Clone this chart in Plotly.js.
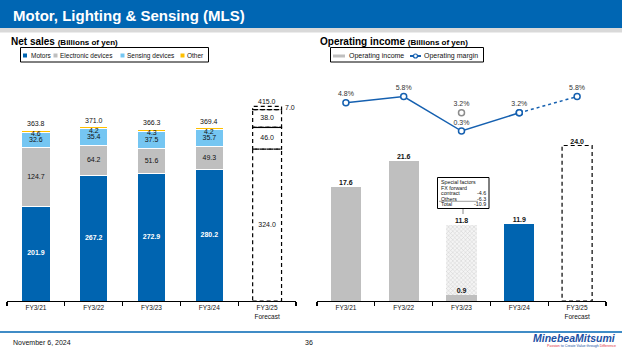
<!DOCTYPE html>
<html><head><meta charset="utf-8">
<script src="https://cdn.plot.ly/plotly-3.0.1.min.js"></script>
<style>html,body{margin:0;padding:0;background:#fff;} #chart{width:622px;height:350px;}</style>
</head><body><div id="chart"></div>
<script>
// ---- data ----
const years = ['FY3/21', 'FY3/22', 'FY3/23', 'FY3/24', 'FY3/25<br>Forecast'];
const motors = [201.9, 267.2, 272.9, 280.2, 324.0];
const electronic = [124.7, 64.2, 51.6, 49.3, 46.0];
const sensing = [32.6, 35.4, 37.5, 35.7, 38.0];
const other = [4.6, 4.2, 4.3, 4.2, 7.0];
const netTotals = [363.8, 371.0, 366.3, 369.4, 415.0];
const opIncome = [17.6, 21.6, 0.9, 11.9, 24.0];
const opIncomeExSpecial = [null, null, 11.8, null, null];
const opMargin = [4.8, 5.8, 0.3, 3.2, 5.8];
const opMarginExSpecial = [null, null, 3.2, null, null];
const specialLabels = ['FX forward', 'contract', 'Others', 'Total'];
const specialValues = ['', '-4.6', '-6.3', '-10.9'];
const segNames = ['Motors', 'Electronic devices', 'Sensing devices', 'Other'];

// ---- styling ----
const W = 622, H = 350;
const X = p => p / W, Y = p => 1 - p / H;
const FONT = 'Liberation Sans, Arial, sans-serif';
const BLUE = '#0064B0', GREY = '#BFBFBF', LBLUE = '#75C6F2', ORANGE = '#FFC000';
const segColors = [BLUE, GREY, LBLUE, ORANGE];
const LINEBLUE = '#1560B0';

const act = [0, 1, 2, 3];
const FC = 4;
const all = [0, 1, 2, 3, 4];
const xa = act.map(i => years[i]);
const segs = [motors, electronic, sensing, other];

const traces = [];
const ann = [];
// stacked net sales bars (actuals)
segs.forEach((s, k) => {
  traces.push({type: 'bar', x: xa, y: act.map(i => s[i]), name: segNames[k], width: 0.49,
    marker: {color: segColors[k], line: {color: '#fff', width: 1}},
    xaxis: 'x', yaxis: 'y', showlegend: false, hoverinfo: 'skip'});
});
// segment labels (motors, electronic, sensing) centred in segments
function cumBefore(k, i) { let c = 0; for (let j = 0; j < k; j++) c += segs[j][i]; return c; }
[0, 1, 2].forEach(k => {
  const s = segs[k];
  traces.push({type: 'scatter', mode: 'text', x: all.map(i => years[i]), y: all.map(i => cumBefore(k, i) + s[i] / 2),
    text: all.map(i => s[i].toFixed(1)),
    textfont: {family: FONT, size: 7, color: all.map(i => (k === 0 && i !== FC) ? '#fff' : '#111'),
      weight: all.map(i => (k === 0 && i !== FC) ? 700 : 400)},
    xaxis: 'x', yaxis: 'y', showlegend: false, hoverinfo: 'skip', cliponaxis: false});
});
// "Other" labels just under the top of actual bars, totals above
act.forEach(i => {
  ann.push({text: other[i].toFixed(1), xref: 'x', yref: 'y', x: years[i], y: netTotals[i], yshift: -3.5,
    xanchor: 'center', yanchor: 'middle', showarrow: false, font: {family: FONT, size: 7, color: '#111'}});
});
all.forEach(i => {
  ann.push({text: netTotals[i].toFixed(1), xref: 'x', yref: 'y', x: years[i], y: netTotals[i], yshift: i === FC ? 5 : 6.5,
    xanchor: 'center', yanchor: 'middle', showarrow: false, font: {family: FONT, size: 7, color: '#111'}});
});
// forecast "Other" label to the right of the box
ann.push({text: other[FC].toFixed(1), xref: 'x', yref: 'y', x: years[FC], y: netTotals[FC] - other[FC] / 2, xanchor: 'left', yanchor: 'middle',
  xshift: 16, showarrow: false, font: {family: FONT, size: 7, color: '#111'}});

// operating income bars
traces.push({type: 'bar', x: xa, y: act.map(i => opIncome[i]), name: 'Operating income', width: 0.52,
  marker: {color: act.map(i => i === 3 ? BLUE : GREY), line: {width: 0}},
  xaxis: 'x2', yaxis: 'y2', showlegend: false, hoverinfo: 'skip'});
traces.push({type: 'bar', x: [years[2]], y: [opIncomeExSpecial[2] - opIncome[2]], width: 0.52,
  marker: {color: '#fff', line: {width: 0}, pattern: {shape: 'x', size: 3, solidity: 0.3, fgcolor: '#CFCFCF', bgcolor: '#F4F4F4'}},
  xaxis: 'x2', yaxis: 'y2', showlegend: false, hoverinfo: 'skip'});
traces.push({type: 'scatter', mode: 'text', x: years, y: opIncome, text: opIncome.map(v => v.toFixed(1)),
  textposition: 'top center', textfont: {family: FONT, size: 7, color: '#111', weight: 700},
  xaxis: 'x2', yaxis: 'y2', showlegend: false, hoverinfo: 'skip', cliponaxis: false});
traces.push({type: 'scatter', mode: 'text', x: [years[2]], y: [opIncomeExSpecial[2]], text: [opIncomeExSpecial[2].toFixed(1)],
  textposition: 'top center', textfont: {family: FONT, size: 7, color: '#111', weight: 700},
  xaxis: 'x2', yaxis: 'y2', showlegend: false, hoverinfo: 'skip', cliponaxis: false});

// operating margin
traces.push({type: 'scatter', mode: 'lines+markers+text', x: xa, y: act.map(i => opMargin[i]),
  text: act.map(i => opMargin[i].toFixed(1) + '%'), textposition: 'top center',
  textfont: {family: FONT, size: 7, color: '#333'},
  line: {color: LINEBLUE, width: 1.5}, marker: {symbol: 'circle', size: 6, color: '#fff', line: {color: LINEBLUE, width: 1.5}},
  xaxis: 'x2', yaxis: 'y3', showlegend: false, hoverinfo: 'skip', cliponaxis: false});
traces.push({type: 'scatter', mode: 'lines+markers+text', x: [years[3], years[4]], y: [opMargin[3], opMargin[4]],
  text: ['', opMargin[4].toFixed(1) + '%'], textposition: 'top center',
  textfont: {family: FONT, size: 7, color: '#333'},
  line: {color: LINEBLUE, width: 1.5, dash: '3px,3px'}, marker: {symbol: 'circle', size: 6, color: '#fff', line: {color: LINEBLUE, width: 1.5}},
  xaxis: 'x2', yaxis: 'y3', showlegend: false, hoverinfo: 'skip', cliponaxis: false});
traces.push({type: 'scatter', mode: 'markers+text', x: [years[2]], y: [opMarginExSpecial[2]],
  text: [opMarginExSpecial[2].toFixed(1) + '%'], textposition: 'top center',
  textfont: {family: FONT, size: 7, color: '#333'},
  marker: {symbol: 'circle', size: 6, color: '#fff', line: {color: '#8C8C8C', width: 1.5}},
  xaxis: 'x2', yaxis: 'y3', showlegend: false, hoverinfo: 'skip', cliponaxis: false});

// ---- shapes ----
const shapes = [];
// header
shapes.push({type: 'rect', xref: 'paper', yref: 'paper', x0: 0, x1: 1, y0: Y(0), y1: Y(28), fillcolor: '#0066B3', line: {width: 0}, layer: 'below'});
shapes.push({type: 'rect', xref: 'paper', yref: 'paper', x0: 0, x1: 1, y0: Y(28), y1: Y(32.5), fillcolor: '#D9D9D9', line: {width: 0}, layer: 'below'});
// footer line
shapes.push({type: 'line', xref: 'paper', yref: 'paper', x0: 0, x1: 1, y0: Y(332), y1: Y(332), line: {color: '#0066B3', width: 1.5}});
// forecast dashed segments (net sales)
let cum = 0;
segs.forEach((s, k) => {
  const y0 = cum, y1 = cum + s[FC];
  shapes.push({type: 'rect', xref: 'x', yref: 'y', x0: FC - 0.25, x1: FC + 0.25, y0: y0, y1: y1,
    line: {color: '#000', width: 1.2, dash: '4px,3px'}, fillcolor: 'rgba(0,0,0,0)'});
  cum = y1;
});
shapes.push({type: 'line', xref: 'x', yref: 'y', x0: FC - 0.25, x1: FC + 0.25,
  y0: motors[FC] + electronic[FC], y1: motors[FC] + electronic[FC], line: {color: '#000', width: 1.2}});
// forecast op income dashed
shapes.push({type: 'rect', xref: 'x2', yref: 'y2', x0: FC - 0.26, x1: FC + 0.26, y0: 0, y1: opIncome[FC],
  line: {color: '#000', width: 1.2, dash: '4px,3px'}, fillcolor: 'rgba(0,0,0,0)'});
// legend boxes
shapes.push({type: 'rect', xref: 'paper', yref: 'paper', x0: X(20.5), x1: X(208.5), y0: Y(62), y1: Y(47.5), line: {color: '#000', width: 1}});
shapes.push({type: 'rect', xref: 'paper', yref: 'paper', x0: X(330.5), x1: X(483.5), y0: Y(62), y1: Y(47.5), line: {color: '#000', width: 1}});
const legSq = [23, 53.5, 120.5, 180.5];
legSq.forEach((lx, k) => shapes.push({type: 'rect', xref: 'paper', yref: 'paper', x0: X(lx), x1: X(lx + 4), y0: Y(57.5), y1: Y(53.5), fillcolor: segColors[k], line: {width: 0}}));
shapes.push({type: 'rect', xref: 'paper', yref: 'paper', x0: X(333), x1: X(345), y0: Y(57.5), y1: Y(54.5), fillcolor: GREY, line: {width: 0}});
shapes.push({type: 'line', xref: 'paper', yref: 'paper', x0: X(410), x1: X(421), y0: Y(56), y1: Y(56), line: {color: LINEBLUE, width: 2}});
shapes.push({type: 'circle', xref: 'paper', yref: 'paper', x0: X(413.5), x1: X(417.5), y0: Y(58), y1: Y(54), fillcolor: '#fff', line: {color: LINEBLUE, width: 1.2}});
// special factors box
shapes.push({type: 'rect', xref: 'paper', yref: 'paper', x0: X(437.5), x1: X(489), y0: Y(208.5), y1: Y(177.5), line: {color: '#000', width: 1}});
shapes.push({type: 'line', xref: 'paper', yref: 'paper', x0: X(439), x1: X(478), y0: Y(201.3), y1: Y(201.3), line: {color: '#888', width: 0.8}});
shapes.push({type: 'line', xref: 'paper', yref: 'paper', x0: X(463), x1: X(463), y0: Y(209), y1: Y(214), line: {color: '#888', width: 1}});

// ---- annotations ----
function t(text, px, py, size, opts) {
  ann.push(Object.assign({text: text, xref: 'paper', yref: 'paper', x: X(px), y: Y(py), xanchor: 'left', yanchor: 'middle',
    showarrow: false, font: {family: FONT, size: size, color: '#111'}, borderpad: 0}, opts || {}));
}
t('<b>Motor, Lighting &amp; Sensing (MLS)</b>', 12, 15.5, 15, {font: {family: FONT, size: 15, color: '#fff'}});
t('<b>Net sales</b> <b><span style="font-size:8px">(Billions of yen)</span></b>', 9.5, 41.5, 10, {font: {family: FONT, size: 10, color: '#000'}});
t('<b>Operating income</b> <b><span style="font-size:8px">(Billions of yen)</span></b>', 319, 41.5, 10, {font: {family: FONT, size: 10, color: '#000'}});
const legTx = [29.5, 58.5, 125.5, 185.5];
legTx.forEach((lx, k) => t(segNames[k], lx, 55.8, 6.5));
t('Operating income', 347.5, 55.8, 7);
t('Operating margin', 423, 55.8, 7);
// special factors
t('Special factors', 439.5, 181.5, 5.3);
const spY = [187.5, 193, 198.5, 203.8];
specialLabels.forEach((s, k) => {
  t(s, 439.5, spY[k], 5.3);
  if (specialValues[k]) t(specialValues[k], 487, spY[k], 5.3, {xanchor: 'right'});
});
// footer
t('November 6, 2024', 12, 342.5, 7);
t('36', 309, 342.5, 7, {xanchor: 'center'});
t('<b><i>MinebeaMitsumi</i></b>', 617, 337.5, 10.5, {xanchor: 'right', font: {family: FONT, size: 10.5, color: '#1B4FA3'}});
t('<span style="color:#E0303C">Passion</span> to Create Value through <span style="color:#E0303C">Difference</span>', 617, 346, 3.6,
  {xanchor: 'right', font: {family: FONT, size: 3.6, color: '#1B4FA3'}});

const axBase = {type: 'category', range: [-0.5, 4.5], showline: true, linecolor: '#000', linewidth: 1.3,
  ticks: 'outside', ticklen: 4, tickwidth: 1.2, tickcolor: '#000', tickson: 'boundaries', showgrid: false, zeroline: false,
  tickfont: {family: FONT, size: 6.5, color: '#111'}, automargin: false, fixedrange: true, categoryorder: 'array', categoryarray: years};
const yBase = {showgrid: false, zeroline: false, showticklabels: false, showline: false, ticks: '', automargin: false,
  domain: [Y(301), Y(70)], fixedrange: true};

const layout = {
  width: W, height: H, margin: {l: 0, r: 0, t: 0, b: 0}, paper_bgcolor: '#fff', plot_bgcolor: 'rgba(0,0,0,0)',
  barmode: 'stack', showlegend: false, font: {family: FONT},
  xaxis: Object.assign({}, axBase, {domain: [X(7), X(296)], anchor: 'y'}),
  yaxis: Object.assign({}, yBase, {range: [0, 492.5], anchor: 'x'}),
  xaxis2: Object.assign({}, axBase, {domain: [X(317), X(606)], anchor: 'y2'}),
  yaxis2: Object.assign({}, yBase, {range: [0, 35.65], anchor: 'x2'}),
  yaxis3: Object.assign({}, yBase, {range: [-26.8, 10.03], anchor: 'x2', overlaying: 'y2'}),
  shapes: shapes, annotations: ann
};
Plotly.newPlot('chart', traces, layout, {displayModeBar: false, staticPlot: true});
</script></body></html>
